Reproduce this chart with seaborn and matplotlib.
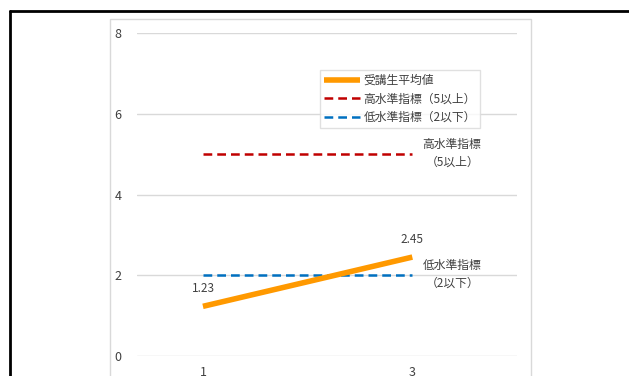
import matplotlib
matplotlib.use("Agg")
import matplotlib.pyplot as plt
import seaborn as sns
import pandas as pd
from matplotlib.patches import Rectangle
from matplotlib.lines import Line2D

# ---- data ----
x_vals = [1, 3]
avg_vals = [1.23, 2.45]
high_vals = [5, 5]
low_vals = [2, 2]
series_names = ["受講生平均値", "高水準指標（5以上）", "低水準指標（2以下）"]
high_note = "高水準指標\n（5以上）"
low_note = "低水準指標\n（2以下）"
y_ticks = [0, 2, 4, 6, 8]
x_ticks = [1, 3]

sns.set_theme(style="white")
plt.rcParams['font.family'] = ['Noto Sans CJK JP', 'DejaVu Sans']

W, H = 629, 376
fig = plt.figure(figsize=(W / 100, H / 100), dpi=100)

# outer black frame (top and left visible)
fig.add_artist(Line2D([10 / W, 1.0], [1 - 10.5 / H, 1 - 10.5 / H], color="black", lw=2.0))
fig.add_artist(Line2D([10 / W, 10 / W], [0, 1 - 10.5 / H], color="black", lw=2.0))
# gray chart area frame
fig.add_artist(Rectangle((110 / W, -0.1), (531 - 110) / W, 1 - 19 / H + 0.1,
                         fill=False, edgecolor="#d9d9d9", lw=1.0))

ax = fig.add_axes([137 / W, 1 - 356 / H, (517 - 137) / W, (356 - 33) / H])

df_avg = pd.DataFrame({"x": x_vals, "y": avg_vals})
df_high = pd.DataFrame({"x": x_vals, "y": high_vals})
df_low = pd.DataFrame({"x": x_vals, "y": low_vals})

sns.lineplot(data=df_avg, x="x", y="y", ax=ax, color="#FF9900", lw=4.0,
             label=series_names[0], zorder=4, solid_capstyle="butt")
sns.lineplot(data=df_high, x="x", y="y", ax=ax, color="#C00000", lw=1.8,
             label=series_names[1], zorder=3)
sns.lineplot(data=df_low, x="x", y="y", ax=ax, color="#0070C0", lw=1.8,
             label=series_names[2], zorder=3)
ax.lines[1].set_dashes([3.5, 2])
ax.lines[2].set_dashes([3.5, 2])

ax.set_xlim(0.37, 4.0)
ax.set_ylim(0, 8)
ax.set_yticks(y_ticks)
ax.set_xticks(x_ticks)
ax.set_xlabel("")
ax.set_ylabel("")
ax.grid(axis="y", color="#d9d9d9", lw=1.0)
ax.grid(axis="x", visible=False)
for s in ax.spines.values():
    s.set_visible(False)
ax.tick_params(axis="y", length=0, pad=11, labelsize=9, labelcolor="#404040")
ax.tick_params(axis="x", length=0, pad=7, labelsize=9, labelcolor="#404040")

# data labels
for xv, yv in zip(x_vals, avg_vals):
    ax.annotate(f"{yv:.2f}", (xv, yv), xytext=(0, 8), textcoords="offset points",
                ha="center", va="bottom", fontsize=8.5, color="#404040")

# right side notes
ax.text(3.38, high_vals[-1] + 0.02, high_note, ha="center", va="center",
        fontsize=8.5, color="#404040", linespacing=1.4)
ax.text(3.38, low_vals[-1] + 0.02, low_note, ha="center", va="center",
        fontsize=8.5, color="#404040", linespacing=1.4)

leg = ax.legend(loc="upper left", bbox_to_anchor=((320 - 137) / (517 - 137), (356 - 70) / (356 - 33)),
                fontsize=8.5, frameon=True, fancybox=False, handlelength=3.0,
                borderpad=0.35, labelspacing=0.45, handletextpad=0.35, borderaxespad=0)
leg.get_frame().set_edgecolor("#d9d9d9")
leg.get_frame().set_linewidth(1.0)
for t in leg.get_texts():
    t.set_color("#404040")

fig.savefig("out.png", dpi=100)
